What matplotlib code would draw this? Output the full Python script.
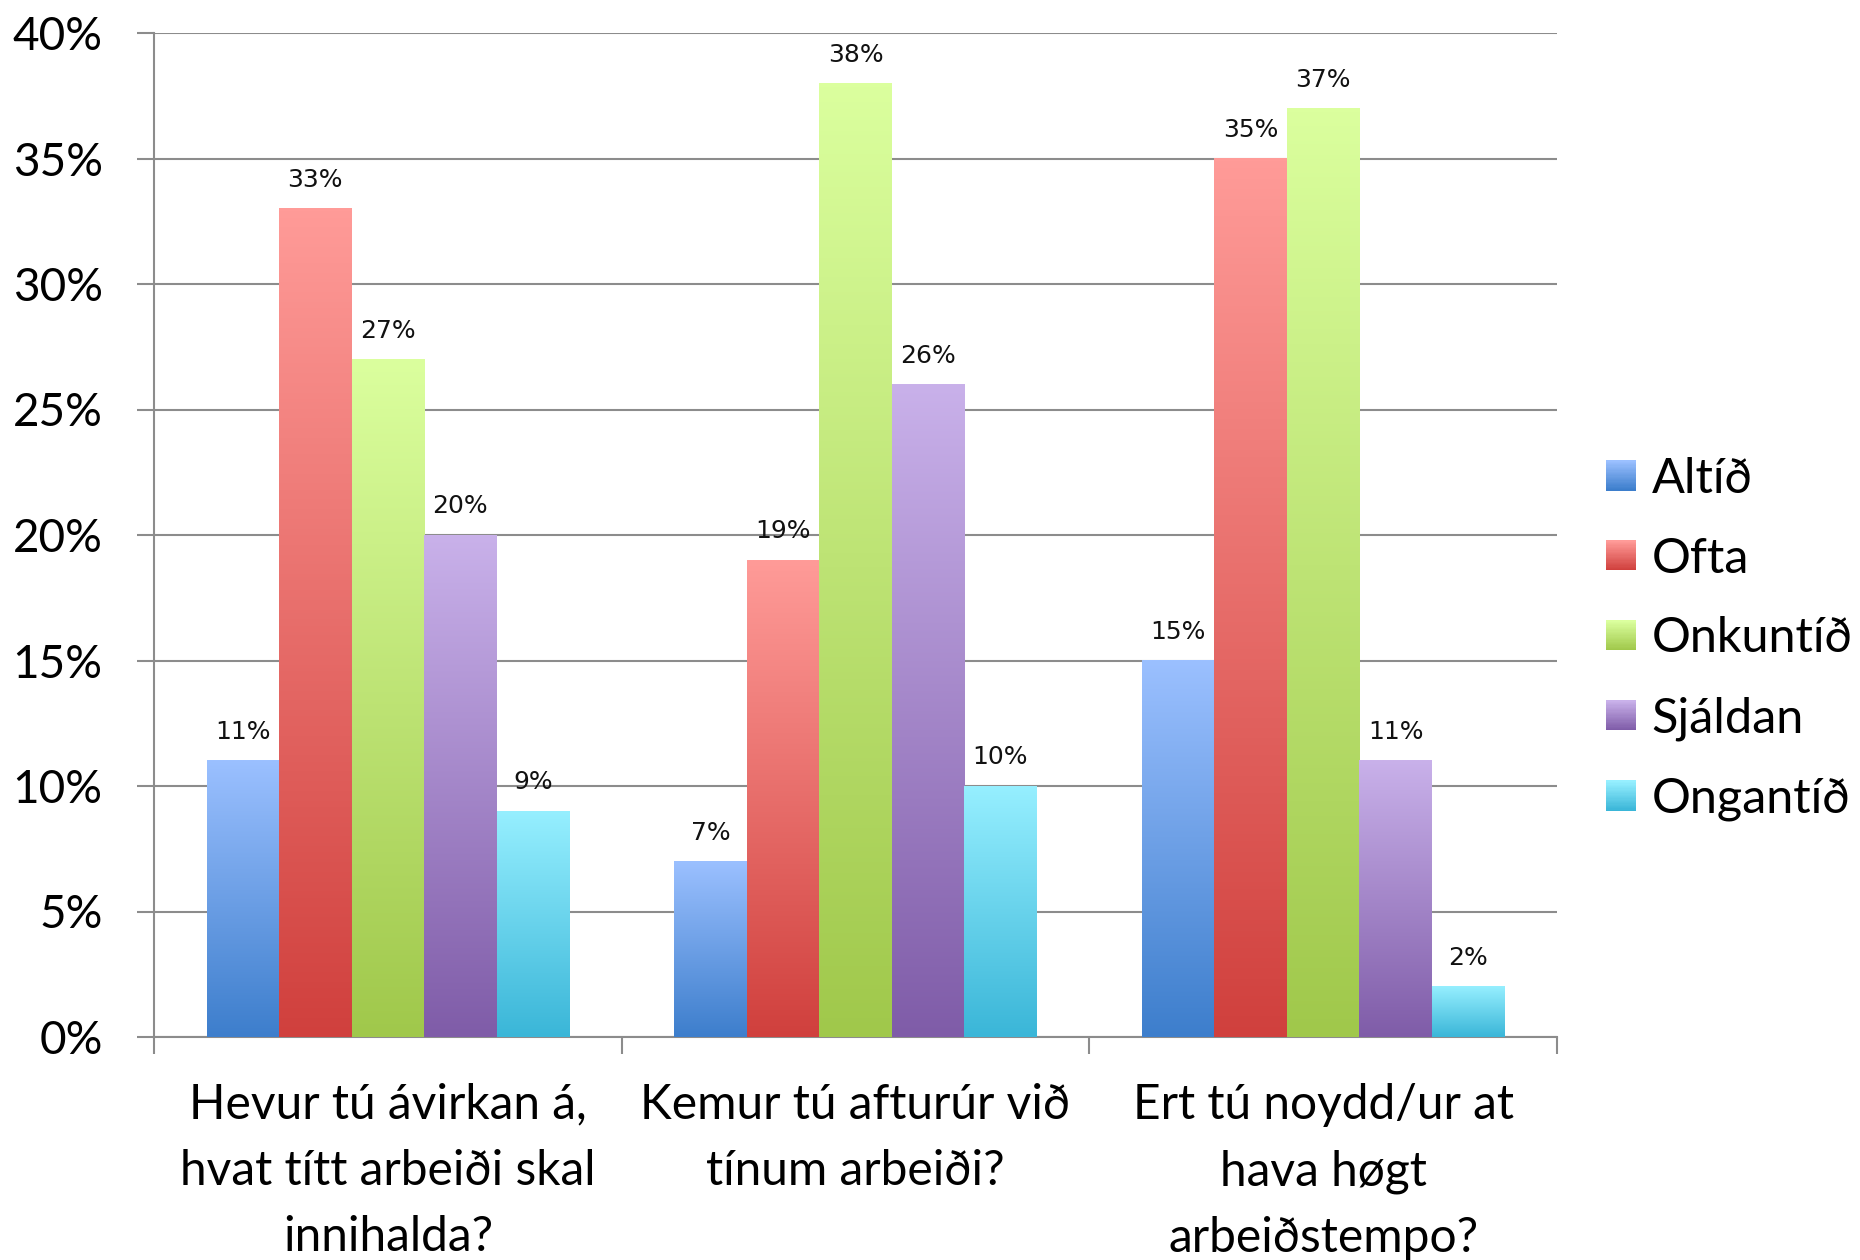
import matplotlib.pyplot as plt
import numpy as np
from matplotlib.colors import LinearSegmentedColormap
from matplotlib.legend_handler import HandlerBase
from matplotlib.patches import Rectangle
from matplotlib.ticker import FixedLocator, PercentFormatter

questions = ["Hevur tú ávirkan á,\nhvat títt arbeiði skal\ninnihalda?",
             "Kemur tú afturúr við\ntínum arbeiði?",
             "Ert tú noydd/ur at\nhava høgt\narbeiðstempo?"]
answers = ["Altíð", "Ofta", "Onkuntíð", "Sjáldan", "Ongantíð"]
altid = [11, 7, 15]
ofta = [33, 19, 35]
onkuntid = [27, 38, 37]
sjaldan = [20, 26, 11]
ongantid = [9, 10, 2]
series = [altid, ofta, onkuntid, sjaldan, ongantid]

top_colors = ["#9bc0ff", "#ff9b98", "#dbff9e", "#c9b1ea", "#96efff"]
bottom_colors = ["#3d7ecc", "#d0403d", "#a0c84b", "#7f5ca8", "#3ab6d8"]
cmaps = [LinearSegmentedColormap.from_list("g%d" % i, [b, t])
         for i, (b, t) in enumerate(zip(bottom_colors, top_colors))]

FONT = "Lato"
GRID = "#8c8c8c"


class GradientHandler(HandlerBase):
    def __init__(self, cmap, n=24):
        super().__init__()
        self.cmap = cmap
        self.n = n

    def create_artists(self, legend, orig_handle, xdescent, ydescent,
                       width, height, fontsize, trans):
        side = min(width, height)
        x0 = -xdescent
        y0 = -ydescent + (height - side) / 2
        out = []
        for k in range(self.n):
            r = Rectangle((x0, y0 + side * k / self.n), side, side / self.n + 0.3,
                          facecolor=self.cmap(k / (self.n - 1)), edgecolor="none",
                          transform=trans)
            out.append(r)
        return out


fig = plt.figure(figsize=(18.6, 12.6), dpi=100)
ax = fig.add_axes([154 / 1860, 1 - 1037 / 1260, (1557 - 154) / 1860, (1037 - 33) / 1260])

x = np.arange(len(questions))
width = 0.155
grad = np.linspace(0, 1, 256).reshape(-1, 1)

for i, vals in enumerate(series):
    offs = (i - 2) * width
    bars = ax.bar(x + offs, vals, width, facecolor="none", edgecolor="none", zorder=3)
    for b in bars:
        ax.imshow(grad, cmap=cmaps[i], origin="lower", aspect="auto", zorder=3,
                  extent=(b.get_x(), b.get_x() + b.get_width(), 0, b.get_height()))
    ax.bar_label(bars, labels=["%d%%" % v for v in vals], padding=12,
                 fontsize=18, family="DejaVu Sans", color="#111111")

ax.set_xlim(-0.5, 2.5)
ax.set_ylim(0, 40)
ax.yaxis.set_major_locator(FixedLocator(np.arange(0, 41, 5)))
ax.yaxis.set_major_formatter(PercentFormatter(decimals=0))
ax.set_xticks(x)
ax.set_xticklabels(questions, fontsize=34.5, family=FONT, linespacing=1.62)
ax.xaxis.set_minor_locator(FixedLocator([-0.5, 0.5, 1.5, 2.5]))
ax.tick_params(axis="x", which="major", length=0, pad=33)
ax.tick_params(axis="x", which="minor", length=12, width=1.5, color=GRID)
ax.tick_params(axis="y", length=12, width=1.5, color=GRID, pad=25,
               labelsize=33)
for lab in ax.get_yticklabels():
    lab.set_family(FONT)

ax.grid(axis="y", color=GRID, linewidth=1.5, zorder=0)
ax.set_axisbelow(True)
for s in ["top", "right"]:
    ax.spines[s].set_visible(False)
for s in ["left", "bottom"]:
    ax.spines[s].set_color(GRID)
    ax.spines[s].set_linewidth(1.5)

proxies = [Rectangle((0, 0), 1, 1) for _ in answers]
fig.legend(proxies, answers, loc="center left",
           bbox_to_anchor=(1606 / 1860, 1 - 639 / 1260),
           handler_map={p: GradientHandler(c) for p, c in zip(proxies, cmaps)},
           frameon=False, prop={"family": FONT, "size": 35},
           handlelength=0.62, handleheight=0.62, handletextpad=0.32,
           labelspacing=0.74, borderpad=0, borderaxespad=0)

fig.savefig("out.png", dpi=100, facecolor="white")
